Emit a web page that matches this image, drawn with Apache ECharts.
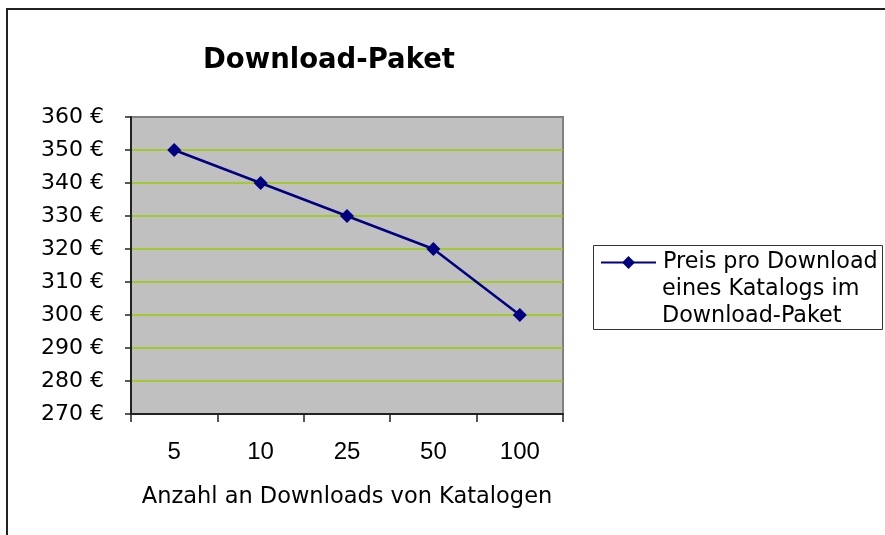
<!DOCTYPE html>
<html>
<head>
<meta charset="utf-8">
<script src="https://cdn.jsdelivr.net/npm/echarts@6/dist/echarts.min.js"></script>
<style>
  html, body { margin: 0; padding: 0; background: #fff; }
  #chart { width: 885px; height: 535px; }
</style>
</head>
<body>
<div id="chart"></div>
<script>
// Anzahl an Downloads (Kategorien)
var downloads = ['5', '10', '25', '50', '100'];
// Preis pro Download in Euro
var preise = [350, 340, 330, 320, 300];
var seriesName = 'Preis pro Download eines Katalogs im Download-Paket';
var legendLines = ['Preis pro Download', 'eines Katalogs im', 'Download-Paket'];

var legendFont = { fontFamily: 'DejaVu Sans', fontSize: 22.3 };

var chart = echarts.init(document.getElementById('chart'));

var option = {
  backgroundColor: '#fff',
  animation: false,
  title: {
    text: 'Download-Paket',
    left: 203,
    top: 47,
    padding: 0,
    textStyle: {
      fontFamily: 'DejaVu Sans',
      fontWeight: 'bold',
      fontSize: 27.5,
      color: '#000'
    }
  },
  legend: {
    left: 600,
    top: 249,
    padding: 0,
    itemWidth: 55,
    itemHeight: 16,
    itemGap: 0,
    data: [seriesName],
    // erste Zeile im Legendeneintrag, Rest als Text darunter
    formatter: function () {
      return legendLines[0];
    },
    textStyle: {
      fontFamily: legendFont.fontFamily,
      fontSize: legendFont.fontSize,
      lineHeight: 27,
      color: '#000',
      padding: [0, 0, 0, 2]
    }
  },
  grid: {
    left: 131,
    right: 322,
    top: 117,
    bottom: 121,
    show: true,
    backgroundColor: '#C0C0C0',
    borderColor: '#808080',
    borderWidth: 2
  },
  xAxis: {
    type: 'category',
    data: downloads,
    boundaryGap: true,
    name: 'Anzahl an Downloads von Katalogen',
    nameLocation: 'middle',
    nameGap: 72,
    nameTextStyle: {
      fontFamily: 'DejaVu Sans',
      fontSize: 22.5,
      color: '#000'
    },
    axisLine: { lineStyle: { color: '#222', width: 2 } },
    axisTick: { show: true, length: 8, lineStyle: { color: '#222', width: 1.5 } },
    axisLabel: {
      margin: 26,
      fontFamily: 'Liberation Sans',
      fontSize: 24,
      color: '#000'
    },
    splitLine: { show: false },
    splitArea: { show: false }
  },
  yAxis: {
    type: 'value',
    min: 270,
    max: 360,
    interval: 10,
    axisLine: { show: true, lineStyle: { color: '#222', width: 2 } },
    axisTick: { show: true, length: 6, lineStyle: { color: '#222', width: 1.5 } },
    axisLabel: {
      margin: 27,
      fontFamily: 'DejaVu Sans',
      fontSize: 22,
      color: '#000',
      formatter: '{value} €'
    },
    splitLine: {
      show: true,
      showMinLine: false,
      showMaxLine: false,
      lineStyle: { color: '#99CC00', width: 1.5 }
    },
    splitArea: { show: false },
    minorSplitLine: { show: false }
  },
  series: [
    {
      name: seriesName,
      type: 'line',
      data: preise,
      symbol: 'diamond',
      symbolSize: 14,
      color: '#000080',
      lineStyle: { color: '#000080', width: 2.5 },
      itemStyle: { color: '#000080' }
    }
  ],
  graphic: [
    {
      type: 'rect',
      shape: { x: 7, y: 9, width: 950, height: 600 },
      style: { fill: 'none', stroke: '#222', lineWidth: 2 },
      silent: true,
      z: 0
    },
    // Rahmen der Legende
    {
      type: 'rect',
      shape: { x: 593.5, y: 245.5, width: 289, height: 84 },
      style: { fill: 'none', stroke: '#333', lineWidth: 1 },
      silent: true
    },
    {
      type: 'text',
      left: 662,
      top: 276,
      style: {
        text: legendLines.slice(1).join('\n'),
        font: legendFont.fontSize + 'px "' + legendFont.fontFamily + '"',
        lineHeight: 27,
        fill: '#000'
      },
      silent: true
    }
  ]
};

chart.setOption(option);
</script>
</body>
</html>
